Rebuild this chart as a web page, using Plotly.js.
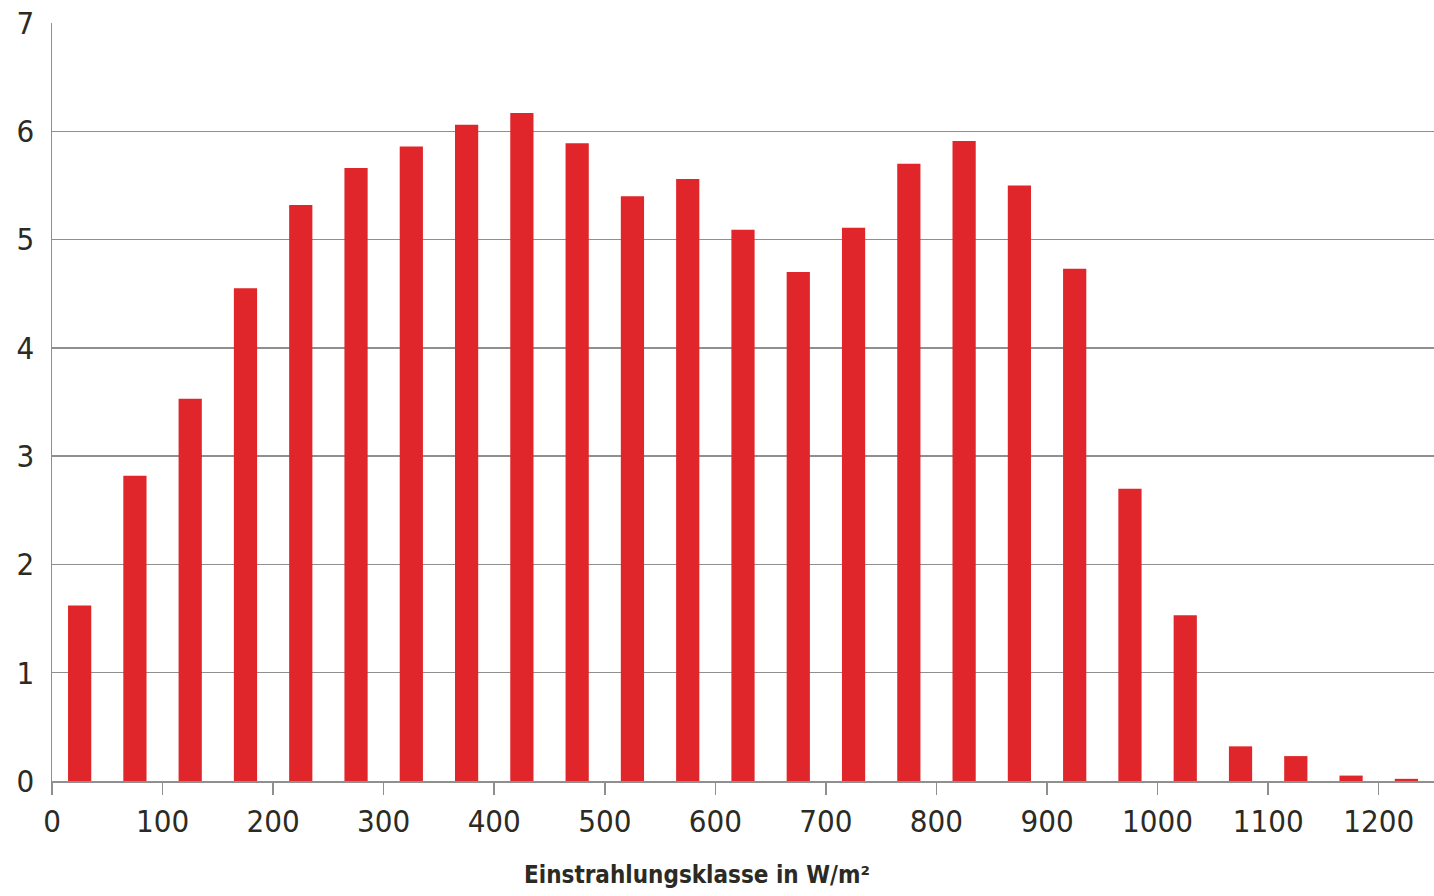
<!DOCTYPE html>
<html>
<head>
<meta charset="utf-8">
<script src="https://cdn.plot.ly/plotly-3.0.1.min.js"></script>
<style>html,body{margin:0;padding:0;background:#fff;}#chart{width:1434px;height:896px;}</style>
</head>
<body>
<div id="chart"></div>
<script>
// Einstrahlungsklasse (class centre, W/m²)
const classes = [25, 75, 125, 175, 225, 275, 325, 375, 425, 475, 525, 575, 625, 675, 725, 775, 825, 875, 925, 975, 1025, 1075, 1125, 1175, 1225];
// share per class
const values = [1.62, 2.82, 3.53, 4.55, 5.32, 5.66, 5.86, 6.06, 6.17, 5.89, 5.40, 5.56, 5.09, 4.70, 5.11, 5.70, 5.91, 5.50, 4.73, 2.70, 1.53, 0.32, 0.23, 0.05, 0.02];
const xTicks = [0, 100, 200, 300, 400, 500, 600, 700, 800, 900, 1000, 1100, 1200];
const yTicks = [0, 1, 2, 3, 4, 5, 6, 7];
const xTitle = 'Einstrahlungsklasse in W/m²';

const fam = '"Liberation Sans Narrow", "DejaVu Sans Condensed", "Liberation Sans", sans-serif';
const tickFont = {family: fam, size: 31, color: '#2b2b24'};

const trace = {
  type: 'bar',
  x: classes,
  y: values,
  width: 21,
  marker: {color: '#e0262a', line: {width: 0}},
  hoverinfo: 'x+y'
};

const layout = {
  width: 1434,
  height: 896,
  margin: {l: 52, r: 0, t: 23, b: 115, pad: 0},
  paper_bgcolor: '#ffffff',
  plot_bgcolor: '#ffffff',
  showlegend: false,
  xaxis: {
    range: [0, 1250],
    tickvals: xTicks,
    ticktext: xTicks.map(String),
    ticks: 'outside',
    ticklen: 12,
    tickwidth: 1.5,
    tickcolor: '#8f8f8f',
    showline: true,
    linecolor: '#8f8f8f',
    linewidth: 1.5,
    showgrid: false,
    zeroline: false,
    tickfont: tickFont,
    fixedrange: true
  },
  yaxis: {
    range: [0, 7],
    tickvals: yTicks,
    ticktext: yTicks.map(String),
    ticks: '',
    showline: true,
    linecolor: '#8f8f8f',
    linewidth: 1.5,
    showgrid: true,
    gridcolor: '#8f8f8f',
    gridwidth: 1.5,
    zeroline: false,
    tickfont: tickFont,
    ticklabelstandoff: 10,
    fixedrange: true
  },
  annotations: [{
    text: '<b>' + xTitle + '</b>',
    xref: 'paper', yref: 'paper',
    x: 0.467, y: -0.124,
    xanchor: 'center', yanchor: 'middle',
    showarrow: false,
    font: {family: fam, size: 24, color: '#2b2b24'}
  }]
};

Plotly.newPlot('chart', [trace], layout, {displayModeBar: false, staticPlot: true});
</script>
</body>
</html>
